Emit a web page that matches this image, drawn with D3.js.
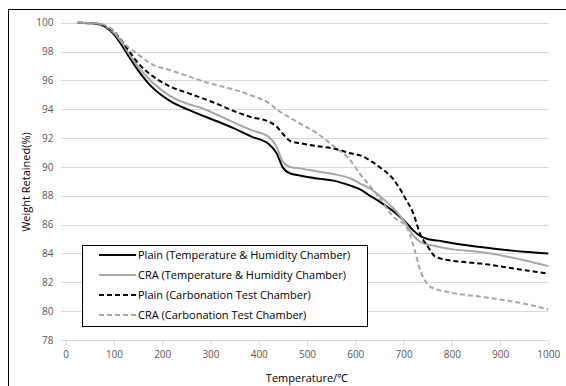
<!DOCTYPE html>
<html><head><meta charset="utf-8">
<script src="https://cdn.jsdelivr.net/npm/d3@7"></script>
<style>body{margin:0;background:#fff}svg{display:block}text{font-family:"Open Sans",sans-serif}</style>
</head><body>
<svg id="c" width="566" height="386"></svg>
<script>
const temps = [25, 60, 80, 100, 115, 130, 150, 180, 215, 255, 280, 315, 350, 385, 420, 437, 450, 465, 485, 520, 555, 590, 610, 635, 650, 680, 705, 720, 735, 750, 765, 780, 800, 860, 950, 1000];
const plainTH  = [100, 99.95, 99.75, 99.2, 98.5, 97.7, 96.7, 95.5, 94.6, 93.95, 93.6, 93.15, 92.65, 92.1, 91.6, 90.95, 89.95, 89.55, 89.4, 89.2, 89.05, 88.7, 88.45, 87.9, 87.6, 86.9, 86.15, 85.6, 85.2, 85.0, 84.92, 84.85, 84.72, 84.45, 84.12, 84.0];
const craTH    = [100, 99.95, 99.78, 99.3, 98.7, 97.9, 96.95, 95.85, 94.95, 94.35, 94.1, 93.6, 93.05, 92.55, 92.1, 91.4, 90.35, 90.0, 89.9, 89.7, 89.5, 89.2, 88.85, 88.4, 88.0, 87.1, 86.05, 85.25, 84.8, 84.62, 84.52, 84.42, 84.3, 84.1, 83.53, 83.12];
const plainCTC = [100, 99.95, 99.8, 99.4, 98.8, 98.1, 97.2, 96.3, 95.6, 95.1, 94.8, 94.35, 93.85, 93.45, 93.15, 92.8, 92.3, 91.8, 91.65, 91.45, 91.28, 90.95, 90.8, 90.35, 90.0, 89.1, 87.75, 86.8, 85.3, 84.5, 83.8, 83.62, 83.5, 83.3, 82.85, 82.6];
const craCTC   = [100, 99.97, 99.85, 99.4, 98.75, 98.3, 97.8, 97.1, 96.72, 96.28, 95.98, 95.65, 95.35, 94.95, 94.45, 94.0, 93.7, 93.4, 93.02, 92.35, 91.45, 90.45, 89.5, 88.5, 87.85, 86.5, 85.9, 84.6, 82.8, 81.85, 81.55, 81.42, 81.27, 81.0, 80.52, 80.12];
const seriesNames = ["Plain (Temperature & Humidity Chamber)", "CRA (Temperature & Humidity Chamber)", "Plain (Carbonation Test Chamber)", "CRA (Carbonation Test Chamber)"];
const xTicks = [0, 100, 200, 300, 400, 500, 600, 700, 800, 900, 1000];
const yTicks = [78, 80, 82, 84, 86, 88, 90, 92, 94, 96, 98, 100];

const styles = [
  {color: "#000000", dash: null},
  {color: "#a6a6a6", dash: null},
  {color: "#000000", dash: "5,3"},
  {color: "#a6a6a6", dash: "5,3"}
];
const allValues = [plainTH, craTH, plainCTC, craCTC];

const svg = d3.select("#c");
const x = d3.scaleLinear().domain([0, 1000]).range([65.7, 548.3]);
const y = d3.scaleLinear().domain([78, 100]).range([340, 22.7]);

// outer frame
svg.append("rect").attr("x", 8.5).attr("y", 9.5).attr("width", 620).attr("height", 420)
  .attr("fill", "none").attr("stroke", "#000").attr("stroke-width", 1);

// gridlines
svg.append("g").selectAll("line").data(yTicks.filter(d => d > 78)).join("line")
  .attr("x1", 61).attr("x2", x(1000))
  .attr("y1", d => Math.round(y(d)) + 0.5).attr("y2", d => Math.round(y(d)) + 0.5)
  .attr("stroke", "#d9d9d9").attr("stroke-width", 1);

// x axis
const xAxis = d3.axisBottom(x).tickValues(xTicks).tickSize(5).tickPadding(5).tickFormat(d3.format("d"));
const gx = svg.append("g").attr("transform", `translate(0,${Math.round(y(78)) + 0.5})`).call(xAxis);
gx.select(".domain").attr("stroke", "#d9d9d9").attr("d", `M61,0H${x(1000)}`);
gx.selectAll(".tick line").attr("stroke", "#d9d9d9");
gx.selectAll(".tick text").attr("fill", "#595959").attr("font-size", 10).attr("font-family", "Open Sans");

// y axis labels
const yAxis = d3.axisLeft(y).tickValues(yTicks).tickSize(0).tickPadding(0);
const gy = svg.append("g").attr("transform", "translate(53.5,0)").call(yAxis);
gy.select(".domain").remove();
gy.selectAll(".tick text").attr("fill", "#595959").attr("font-size", 10).attr("font-family", "Open Sans");

// lines
const line = d3.line().x((d, i) => x(temps[i])).y(d => y(d)).curve(d3.curveMonotoneX);
allValues.forEach((vals, k) => {
  svg.append("path").datum(vals).attr("d", line)
    .attr("fill", "none").attr("stroke", styles[k].color).attr("stroke-width", 2)
    .attr("stroke-dasharray", styles[k].dash);
});

// axis titles
svg.append("text").attr("x", 307).attr("y", 382).attr("text-anchor", "middle")
  .attr("font-size", 11).attr("fill", "#000").text("Temperature/℃");
svg.append("text").attr("transform", "translate(30,182) rotate(-90)").attr("text-anchor", "middle")
  .attr("font-size", 11).attr("fill", "#000").text("Weight Retained(%)");

// legend
const lg = svg.append("g");
lg.append("rect").attr("x", 82.5).attr("y", 245.5).attr("width", 285).attr("height", 81)
  .attr("fill", "#fff").attr("stroke", "#000").attr("stroke-width", 1);
seriesNames.forEach((name, k) => {
  const yy = 255 + k * 20;
  lg.append("line").attr("x1", 99).attr("x2", 136).attr("y1", yy).attr("y2", yy)
    .attr("stroke", styles[k].color).attr("stroke-width", 2).attr("stroke-dasharray", styles[k].dash);
  lg.append("text").attr("x", 138).attr("y", yy).attr("dy", "0.35em")
    .attr("font-size", 11).attr("fill", "#000").text(name);
});
</script>
</body></html>
